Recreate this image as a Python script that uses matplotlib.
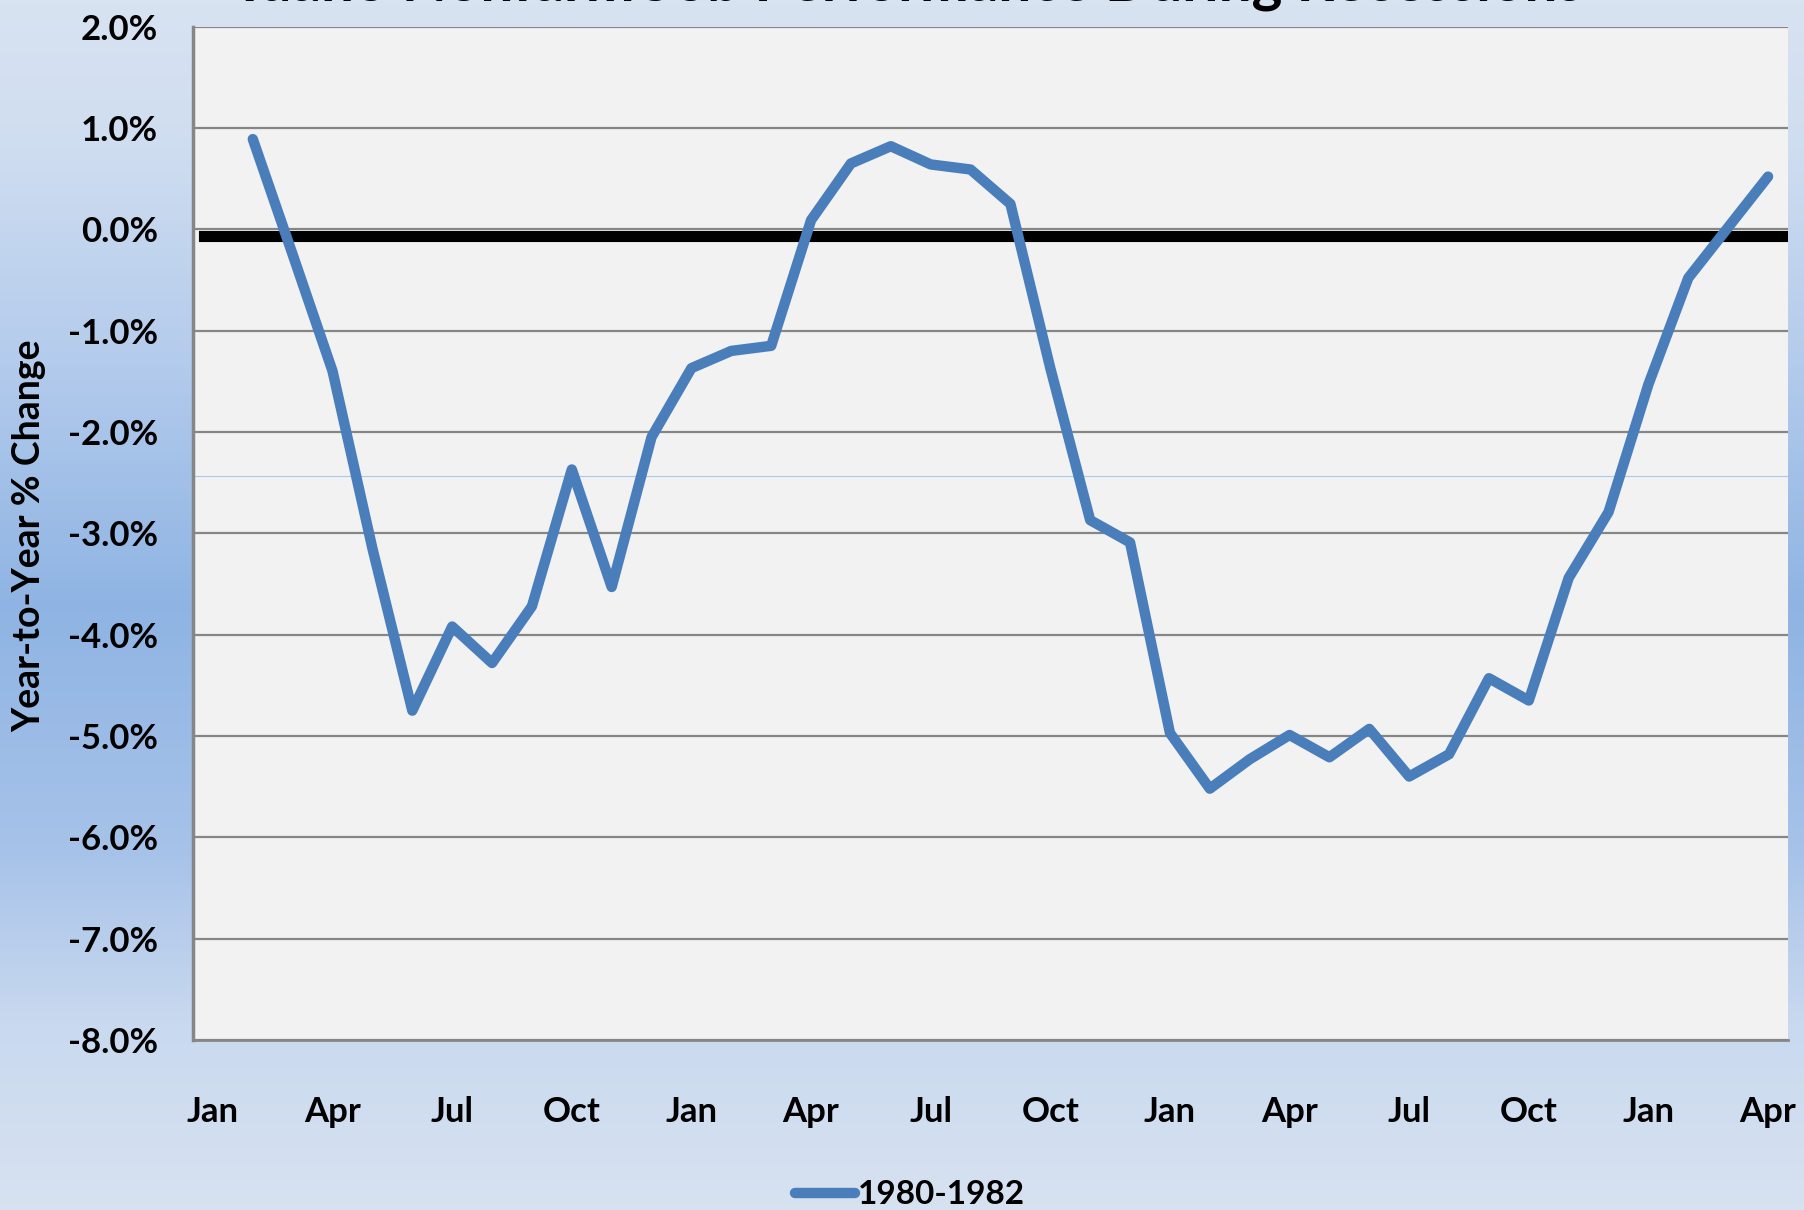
import numpy as np
import matplotlib.pyplot as plt
from matplotlib.colors import LinearSegmentedColormap
from matplotlib.transforms import ScaledTranslation

# Idaho nonfarm jobs, year-to-year % change, Jan 1980 - Apr 1983 (Jan 1980 not plotted)
month_names = ['Jan', 'Feb', 'Mar', 'Apr', 'May', 'Jun',
               'Jul', 'Aug', 'Sep', 'Oct', 'Nov', 'Dec']
n_months = 40
yoy_change = [np.nan, 0.89, -0.25, -1.40, -3.15, -4.75, -3.92, -4.28, -3.72, -2.37,
              -3.53, -2.05, -1.37, -1.20, -1.15, 0.09, 0.65, 0.82, 0.64, 0.59,
              0.25, -1.37, -2.87, -3.09, -4.97, -5.52, -5.23, -4.99, -5.21, -4.93,
              -5.40, -5.18, -4.43, -4.65, -3.44, -2.79, -1.53, -0.48, 0.02, 0.52]
series_name = '1980-1982'
title = 'Idaho Nonfarm Job Performance During Recessions'
y_ticks = [2, 1, 0, -1, -2, -3, -4, -5, -6, -7, -8]

line_blue = '#4a7ebb'
grid_gray = '#868686'
font = 'Lato'

plt.rcParams['font.family'] = [font, 'DejaVu Sans']
plt.rcParams['font.weight'] = 'bold'

fig = plt.figure(figsize=(18.04, 12.10), dpi=100)

# background gradient (light at top/bottom, darker blue in the middle)
bg = fig.add_axes([0, 0, 1, 1], zorder=-10)
bg_cmap = LinearSegmentedColormap.from_list(
    'bg', [(0.0, '#d8e3f2'), (0.12, '#cfddf0'), (0.30, '#b3cbec'),
           (0.50, '#8fb4e3'), (0.70, '#a6c2e9'), (0.85, '#c9d9ef'), (1.0, '#d7e2f1')])
grad = np.linspace(0, 1, 400).reshape(-1, 1)
bg.imshow(grad, cmap=bg_cmap, aspect='auto', extent=[0, 1, 0, 1], origin='upper')
bg.axis('off')

ax = fig.add_axes([0.10698, 0.1405, 0.88415, 0.8375])
ax.set_facecolor('#f2f2f2')

x = np.arange(n_months)
line, = ax.plot(x, yoy_change, color=line_blue, lw=7.5, solid_capstyle='round',
                solid_joinstyle='round', label=series_name, zorder=4)

# heavy zero reference line (sits a hair below the gridline in the original)
zl = ax.axhline(0, xmin=0.007, xmax=1, color='black', lw=8, zorder=3)
zl.set_transform(zl.get_transform() + ScaledTranslation(0, -6.5 / 100, fig.dpi_scale_trans))
# faint stray line across the plot
ax.axhline(-2.43, color='#a9c8ec', lw=0.8, zorder=2)

ax.set_xlim(-0.5, n_months - 0.5)
ax.set_ylim(-8, 2)
ax.set_yticks(y_ticks)
ax.set_yticklabels([f'{v:.1f}%' for v in y_ticks])
tick_pos = list(range(0, n_months, 3))
ax.set_xticks(tick_pos)
ax.set_xticklabels([month_names[i % 12] for i in tick_pos])
ax.tick_params(axis='y', length=0, pad=25, labelsize=25)
ax.tick_params(axis='x', length=0, pad=40, labelsize=25)

ax.yaxis.grid(True, color=grid_gray, lw=1.6)
ax.set_axisbelow(True)
for side in ['top', 'right']:
    ax.spines[side].set_visible(False)
ax.spines['left'].set_color(grid_gray)
ax.spines['left'].set_linewidth(2.5)
ax.spines['bottom'].set_color(grid_gray)
ax.spines['bottom'].set_linewidth(2)

fig.text(29 / 1804, 1 - 536 / 1210, 'Year-to-Year % Change', rotation=90,
         ha='center', va='center', fontsize=27, fontweight='bold')
# title runs off the top edge in the original, only the descenders show
fig.text(0.5055, 1 - 0.5 / 1210, title, ha='center', va='baseline',
         fontsize=42, fontweight='bold')

fig.legend(handles=[line], loc='center', bbox_to_anchor=(910 / 1804, 1 - 1195 / 1210),
           frameon=False, fontsize=24, handlelength=1.8, handletextpad=0.1)

fig.savefig('out.png', dpi=100)
